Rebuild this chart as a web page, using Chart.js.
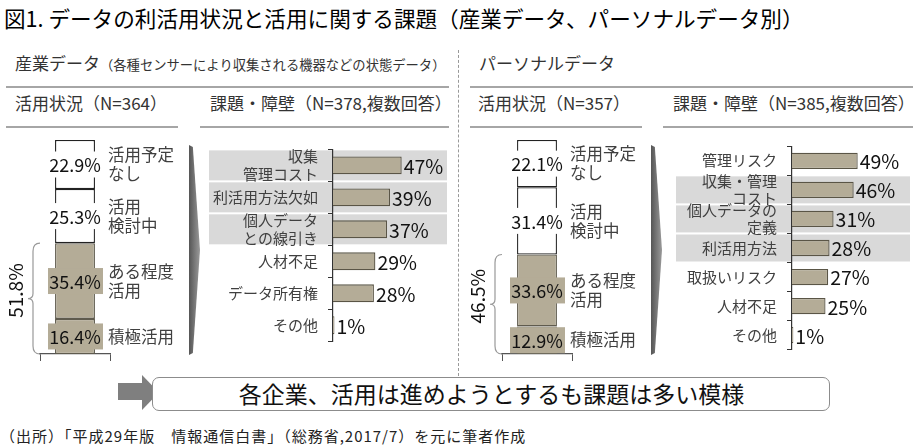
<!DOCTYPE html>
<html>
<head>
<meta charset="utf-8">
<script src="https://cdn.jsdelivr.net/npm/chart.js@4.4.1/dist/chart.umd.min.js"></script>
<style>
body{margin:0;background:#fff;}
#wrap{position:relative;width:920px;height:446px;overflow:hidden;font-family:"Noto Sans CJK JP",sans-serif;color:#1a1a1a;}
.t{position:absolute;white-space:nowrap;line-height:1;}
.rule{position:absolute;height:2px;background:#a6a6a6;}
canvas{position:absolute;}
.chev{position:absolute;background:linear-gradient(to right,#555,#9a9a9a);clip-path:polygon(0 0,35% 1%,100% 50%,35% 99%,0 100%);}
</style>
</head>
<body>
<div id="wrap">
  <div class="t" style="left:4px;top:7px;font-size:21.6px;color:#000;">図1. データの利活用状況と活用に関する課題（産業データ、パーソナルデータ別）</div>

  <div class="t" style="left:15px;top:54px;font-size:17px;color:#333;">産業データ<span style="font-size:13.3px;">（各種センサーにより収集される機器などの状態データ）</span></div>
  <div class="t" style="left:479px;top:54px;font-size:17px;color:#333;">パーソナルデータ</div>
  <div class="rule" style="left:6px;top:86px;width:443px;"></div>
  <div class="rule" style="left:470px;top:86px;width:443px;"></div>

  <div class="t" style="left:15px;top:94px;font-size:17px;color:#333;">活用状況（N=364）</div>
  <div class="t" style="left:210px;top:94px;font-size:17px;color:#333;">課題・障壁（N=378,複数回答）</div>
  <div class="t" style="left:478px;top:94px;font-size:17px;color:#333;">活用状況（N=357）</div>
  <div class="t" style="left:673px;top:94px;font-size:17px;color:#333;">課題・障壁（N=385,複数回答）</div>
  <div class="rule" style="left:6px;top:126px;width:172px;"></div>
  <div class="rule" style="left:200px;top:126px;width:249px;"></div>
  <div class="rule" style="left:470px;top:126px;width:172px;"></div>
  <div class="rule" style="left:663px;top:126px;width:250px;"></div>

  <div style="position:absolute;left:458px;top:50px;height:326px;border-left:1px dashed #999;"></div>

  <div class="chev" style="left:189px;top:145px;width:11px;height:210px;"></div>
  <div class="chev" style="left:651px;top:145px;width:11px;height:210px;"></div>

  <canvas id="indStatus" width="190" height="240" style="left:0;top:130px;"></canvas>
  <canvas id="indIssues" width="250" height="240" style="left:200px;top:130px;"></canvas>
  <canvas id="perStatus" width="188" height="240" style="left:462px;top:130px;"></canvas>
  <canvas id="perIssues" width="255" height="240" style="left:660px;top:128px;"></canvas>

  <div style="position:absolute;left:118px;top:383px;width:25px;height:17px;background:#7f7f7f;"></div>
  <div style="position:absolute;left:142px;top:375px;width:17px;height:35px;background:#7f7f7f;clip-path:polygon(0 0,100% 50%,0 100%);"></div>
  <div style="position:absolute;left:152px;top:377px;width:676px;height:32px;border:1.5px solid #8c8c8c;border-radius:7px;background:#fff;"></div>
  <div class="t" style="left:152px;width:679px;top:382px;font-size:23px;text-align:center;color:#111;">各企業、活用は進めようとするも課題は多い模様</div>

  <div class="t" style="left:0;top:428px;font-size:15px;letter-spacing:1px;color:#222;">（出所）「平成29年版　情報通信白書」（総務省,2017/7）を元に筆者作成</div>
</div>

<script>
// 活用状況（下から順）
var statusLabels=["積極活用","ある程度\n活用","活用\n検討中","活用予定\nなし"];
var industryStatus=[16.4,35.4,25.3,22.9];
var personalStatus=[12.9,33.6,31.4,22.1];

// 課題・障壁
var industryIssues=[["収集","管理コスト"],"利活用方法欠如",["個人データ","との線引き"],"人材不足","データ所有権","その他"];
var industryIssueValues=[47,39,37,29,28,1];
var industryHighlight=[0,1,2];

var personalIssues=["管理リスク",["収集・管理","コスト"],["個人データの","定義"],"利活用方法","取扱いリスク","人材不足","その他"];
var personalIssueValues=[49,46,31,28,27,25,1];
var personalHighlight=[1,2,3];

var FONT='"Noto Sans CJK JP", sans-serif';
var TAN='#b4ac97';

// 積み上げ棒のラベル・括弧
var statusPlugin={
  id:'statusLabels',
  afterDatasetsDraw:function(chart){
    var ctx=chart.ctx;
    var area=chart.chartArea;
    ctx.save();
    chart.data.datasets.forEach(function(ds,i){
      var bar=chart.getDatasetMeta(i).data[0];
      var cy=(bar.y+bar.base)/2;
      ctx.fillStyle=i<2?TAN:'#fff';
      ctx.fillRect(bar.x-27,cy-13,55,26);
      ctx.fillStyle='#111';
      ctx.font='18px '+FONT;
      ctx.textAlign='center';
      ctx.textBaseline='middle';
      ctx.fillText(ds.data[0].toFixed(1)+'%',bar.x,cy+1);
      var lines=ds.label.split('\n');
      ctx.fillStyle='#404040';
      ctx.font='16.5px '+FONT;
      ctx.textAlign='left';
      lines.forEach(function(l,k){
        ctx.fillText(l,bar.x+bar.width/2+13,cy+(k-(lines.length-1)/2)*19);
      });
    });
    // 活用している割合の括弧
    var top=chart.getDatasetMeta(1).data[0].y;
    var bottom=chart.getDatasetMeta(0).data[0].base;
    var mid=(top+bottom)/2;
    var x0=area.left, x1=area.left-7, x2=area.left-12;
    ctx.strokeStyle='#999';
    ctx.lineWidth=1.2;
    ctx.beginPath();
    ctx.moveTo(x0,top);
    ctx.quadraticCurveTo(x1,top,x1,top+8);
    ctx.lineTo(x1,mid-5);
    ctx.quadraticCurveTo(x1,mid,x2,mid);
    ctx.quadraticCurveTo(x1,mid,x1,mid+5);
    ctx.lineTo(x1,bottom-8);
    ctx.quadraticCurveTo(x1,bottom,x0,bottom);
    ctx.stroke();
    var total=chart.data.datasets[0].data[0]+chart.data.datasets[1].data[0];
    ctx.translate(area.left-24,mid-8);
    ctx.rotate(-Math.PI/2);
    ctx.fillStyle='#111';
    ctx.font='19px '+FONT;
    ctx.textAlign='center';
    ctx.textBaseline='middle';
    ctx.fillText(total.toFixed(1)+'%',0,0);
    ctx.restore();
  }
};

function makeStatus(id,values,padRight){
  new Chart(document.getElementById(id),{
    type:'bar',
    data:{
      labels:[''],
      datasets:values.map(function(v,i){
        return {
          label:statusLabels[i],
          data:[v],
          backgroundColor:i<2?TAN:'#fff',
          borderColor:i<2?'#5f5b4e':'#222',
          borderWidth:1.3,
          borderSkipped:false,
          barPercentage:0.57,
          categoryPercentage:1
        };
      })
    },
    options:{
      responsive:false,
      animation:false,
      layout:{padding:{left:40,right:padRight,top:10,bottom:9}},
      plugins:{legend:{display:false},tooltip:{enabled:false}},
      scales:{
        x:{
          stacked:true,
          grid:{display:true,drawOnChartArea:false,tickLength:7,color:'#555',offset:true},
          border:{display:true,color:'#555',width:1.3},
          ticks:{display:false},
          afterFit:function(s){s.height=7;}
        },
        y:{stacked:true,display:false,min:0,max:100}
      }
    },
    plugins:[statusPlugin]
  });
}

function makeIssues(id,labels,values,highlight,opt){
  new Chart(document.getElementById(id),{
    type:'bar',
    data:{
      labels:labels,
      datasets:[{
        data:values,
        backgroundColor:TAN,
        borderColor:'#5a5546',
        borderWidth:1.3,
        borderSkipped:'start',
        barPercentage:0.56,
        categoryPercentage:1
      }]
    },
    options:{
      indexAxis:'y',
      responsive:false,
      animation:false,
      layout:{padding:{left:0,right:opt.padRight,top:opt.padTop,bottom:3}},
      plugins:{legend:{display:false},tooltip:{enabled:false}},
      scales:{
        x:{display:false,min:0,max:opt.max},
        y:{
          grid:{display:true,drawOnChartArea:false,tickLength:5,color:'#333',offset:true},
          border:{display:true,color:'#333',width:1.2},
          ticks:{autoSkip:false,color:'#404040',padding:10,font:{size:15,family:FONT,lineHeight:opt.lineHeight}},
          afterFit:function(s){s.width=opt.axisWidth;}
        }
      }
    },
    plugins:[{
      id:'rows',
      beforeDraw:function(chart){
        var ctx=chart.ctx, ys=chart.scales.y;
        ctx.save();
        ctx.fillStyle='#d9d9d9';
        highlight.forEach(function(i){
          var c=ys.getPixelForValue(i);
          ctx.fillRect(opt.hlLeft,c-opt.hlHeight/2,chart.chartArea.right-opt.hlLeft,opt.hlHeight);
        });
        ctx.restore();
      },
      afterDatasetsDraw:function(chart){
        var ctx=chart.ctx;
        ctx.save();
        ctx.fillStyle='#111';
        ctx.font='19.5px '+FONT;
        ctx.textAlign='left';
        ctx.textBaseline='middle';
        chart.getDatasetMeta(0).data.forEach(function(bar,i){
          ctx.fillText(values[i]+'%',bar.x+2,bar.y+1);
        });
        ctx.restore();
      }
    }]
  });
}

makeStatus('indStatus',industryStatus,80);
makeStatus('perStatus',personalStatus,78);
makeIssues('indIssues',industryIssues,industryIssueValues,industryHighlight,
  {max:78,axisWidth:133,padRight:3,padTop:8,hlLeft:9,hlHeight:30,lineHeight:1.25});
makeIssues('perIssues',personalIssues,personalIssueValues,personalHighlight,
  {max:88,axisWidth:132,padRight:5,padTop:7,hlLeft:16,hlHeight:27,lineHeight:1.1});
</script>
</body>
</html>
